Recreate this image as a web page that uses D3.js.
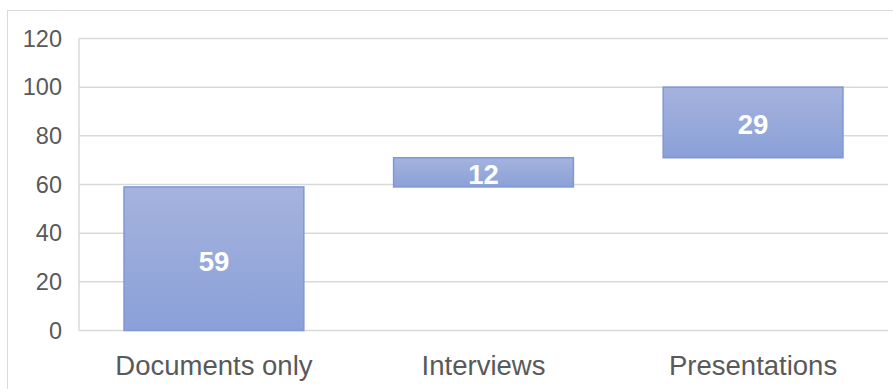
<!DOCTYPE html>
<html><head><meta charset="utf-8">
<script src="https://cdn.jsdelivr.net/npm/d3@7"></script>
<style>html,body{margin:0;padding:0;background:#fff;}svg{display:block;font-family:"Liberation Sans",Arial,sans-serif;}</style>
</head><body><div id="chart"></div>
<script>
const categories = ["Documents only", "Interviews", "Presentations"];
const values = [59, 12, 29];
const yTicks = [0, 20, 40, 60, 80, 100, 120];

const W = 893, H = 389;
const margin = {left: 79, right: 5, top: 38.5, bottom: 58.5};
const svg = d3.select("#chart").append("svg").attr("width", W).attr("height", H);

svg.append("rect").attr("x", 7.5).attr("y", 10.5).attr("width", 900).attr("height", 400)
  .attr("fill", "#fff").attr("stroke", "#d9d9d9").attr("stroke-width", 1);

const defs = svg.append("defs");
const grad = defs.append("linearGradient").attr("id", "g").attr("x1", 0).attr("y1", 0).attr("x2", 0).attr("y2", 1);
grad.append("stop").attr("offset", "0%").attr("stop-color", "#a5b3de");
grad.append("stop").attr("offset", "100%").attr("stop-color", "#8aa0d8");

const x = d3.scaleBand().domain(categories).range([margin.left, W - margin.right]).paddingInner(0.333).paddingOuter(0.167);
const y = d3.scaleLinear().domain([0, 120]).range([H - margin.bottom, margin.top]);

// gridlines
svg.append("g").selectAll("line").data(yTicks).join("line")
  .attr("x1", margin.left).attr("x2", W - margin.right)
  .attr("y1", d => y(d)).attr("y2", d => y(d))
  .attr("stroke", "#d9d9d9").attr("stroke-width", 1.5);
svg.append("line").attr("x1", margin.left).attr("x2", margin.left)
  .attr("y1", y(120)).attr("y2", y(0)).attr("stroke", "#d9d9d9").attr("stroke-width", 1.5);

// y axis labels
const yAxis = d3.axisLeft(y).tickValues(yTicks).tickSize(0).tickPadding(17);
const ga = svg.append("g").attr("transform", `translate(${margin.left},0)`).call(yAxis);
ga.select(".domain").remove();
ga.selectAll("text").attr("font-size", 23.5).attr("fill", "#595959").attr("font-family", '"Liberation Sans",Arial,sans-serif');

// waterfall
let cum = 0;
const bars = values.map((v, i) => { const b = {cat: categories[i], v, start: cum, end: cum + v}; cum += v; return b; });

svg.append("g").selectAll("rect").data(bars).join("rect")
  .attr("x", d => x(d.cat)).attr("width", x.bandwidth())
  .attr("y", d => y(d.end)).attr("height", d => y(d.start) - y(d.end))
  .attr("fill", "url(#g)").attr("stroke", "#7f98d5").attr("stroke-width", 1.5);

svg.append("g").selectAll("text").data(bars).join("text")
  .attr("x", d => x(d.cat) + x.bandwidth() / 2)
  .attr("y", d => (y(d.start) + y(d.end)) / 2 + 2)
  .attr("dy", "0.36em").attr("text-anchor", "middle")
  .attr("font-size", 27.5).attr("font-weight", "bold").attr("fill", "#fff")
  .text(d => d.v);

// x axis labels
const xAxis = d3.axisBottom(x).tickSize(0).tickPadding(25);
const gx = svg.append("g").attr("transform", `translate(0,${y(0)})`).call(xAxis);
gx.select(".domain").remove();
gx.selectAll("text").attr("font-size", 27.5).attr("fill", "#595959").attr("font-family", '"Liberation Sans",Arial,sans-serif');
</script></body></html>
